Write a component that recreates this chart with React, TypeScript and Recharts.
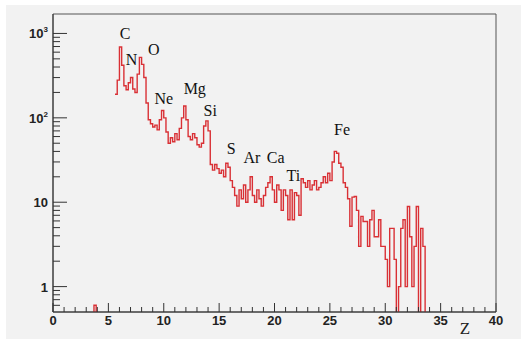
import { LineChart, Line, XAxis, YAxis, ReferenceArea, ReferenceDot } from 'recharts';

// histogram bins: 0.2 wide, from Z = 5.6 to 33.6
const firstEdge = 5.6;
const binWidth = 0.2;
const counts: number[] = [
  190, 280, 690, 420, 240, 215, 260, 300, 220, 200,
  330, 520, 430, 300, 150, 95, 85, 78, 82, 72,
  95, 122, 100, 68, 50, 58, 52, 65, 55, 75,
  100, 138, 95, 60, 55, 65, 58, 48, 45, 50,
  80, 92, 70, 28, 24, 28, 25, 22, 24, 20,
  29, 26, 18, 15, 12, 9, 14, 11, 16, 10,
  14, 20, 12, 10, 14, 11, 9, 12, 15, 17,
  20, 14, 10, 16, 14, 8, 14, 12, 6.2, 14,
  6.2, 13, 12, 7, 19, 17, 15, 18, 14, 16,
  18, 14, 15, 17, 20, 17, 22, 18, 30, 40,
  38, 29, 26, 17, 15, 11, 5.2, 11.5, 11.7, 8,
  3, 6.8, 5.9, 5.9, 3, 6.2, 8, 3.9, 3.9, 6.2,
  3, 3, 2.1, 1, 4.9, 4.9, 2.1, 0, 1, 4.9,
  6.2, 1, 8.9, 3.9, 1, 3, 8.9, 0, 4.9, 3,
];

// lone low bin near Z = 3.8
const strayEdges = [3.7, 3.9];
const strayCounts = [0.6];

const elements = ['C', 'N', 'O', 'Ne', 'Mg', 'Si', 'S', 'Ar', 'Ca', 'Ti', 'Fe'];
const elementZ = [6.5, 7.1, 9.1, 10.0, 12.8, 14.2, 16.1, 17.96, 20.1, 21.7, 26.1];
const elementY = [1014, 499, 656, 168, 226, 124, 44, 34.5, 34.5, 20.6, 74];

const xTicks = Array.from({ length: 41 }, (_, i) => i);
const yTicks = [
  0.6, 0.7, 0.8, 0.9,
  1, 2, 3, 4, 5, 6, 7, 8, 9,
  10, 20, 30, 40, 50, 60, 70, 80, 90,
  100, 200, 300, 400, 500, 600, 700, 800, 900,
  1000,
];
const yLabels: Record<number, [string, string]> = {
  1: ['1', ''],
  10: ['10', ''],
  100: ['10', '2'],
  1000: ['10', '3'],
};

const FLOOR = 0.1; // empty bins drop below the axis and get clipped

const lastEdge = +(firstEdge + counts.length * binWidth).toFixed(1);
const data: { z: number; v: number | null }[] = [
  { z: 3.6, v: FLOOR },
  { z: strayEdges[0], v: strayCounts[0] },
  { z: strayEdges[1], v: FLOOR },
  { z: 4.0, v: null },
  ...counts.map((c, i) => ({ z: +(firstEdge + i * binWidth).toFixed(1), v: c > 0 ? c : FLOOR })),
  { z: lastEdge, v: FLOOR },
];

const tickFont = 'Liberation Sans, Arial, sans-serif';
const serif = 'Liberation Serif, Times New Roman, serif';

function YTick(props: any) {
  const { x, y, payload } = props;
  const lab = yLabels[payload.value];
  const len = lab ? 14 : 7;
  return (
    <g>
      <line x1={x} x2={x + len} y1={y} y2={y} stroke="#333" strokeWidth={1} />
      {lab && (
        <text x={x - 5} y={y} dy={5} textAnchor="end" fontFamily={tickFont} fontWeight="bold" fontSize={13} fill="#222">
          {lab[0]}
          {lab[1] && (
            <tspan dy={-6} fontSize={8}>
              {lab[1]}
            </tspan>
          )}
        </text>
      )}
    </g>
  );
}

function XTick(props: any) {
  const { x, y, payload } = props;
  const major = payload.value % 5 === 0;
  return (
    <g>
      <line x1={x} x2={x} y1={y} y2={y - (major ? 9 : 5)} stroke="#333" strokeWidth={1} />
      {major && (
        <text x={x} y={y + 13} textAnchor="middle" fontFamily={tickFont} fontWeight="bold" fontSize={13} fill="#222">
          {payload.value}
        </text>
      )}
    </g>
  );
}

export default function App() {
  return (
    <div style={{ position: 'absolute', left: 0, top: 0, width: 521, height: 339, background: '#fff' }}>
      <div style={{ position: 'absolute', left: 6, top: 5, right: 0, bottom: 0, background: '#f2f2f2' }} />
      <div style={{ position: 'absolute', left: 0, top: 0 }}>
        <LineChart width={521} height={339} data={data} margin={{ top: 14, right: 25, bottom: 0, left: 0 }}>
          <ReferenceArea x1={0} x2={40} y1={0.5} y2={1700} fill="none" stroke="#555" strokeWidth={1} />
          <XAxis
            dataKey="z"
            type="number"
            domain={[0, 40]}
            ticks={xTicks}
            interval={0}
            height={27}
            tickSize={0}
            tickMargin={0}
            tickLine={false}
            axisLine={{ stroke: '#333' }}
            tick={(p: any) => <XTick {...p} />}
            label={(p: any) => (
              <text
                x={p.viewBox.x + p.viewBox.width - 31}
                y={p.viewBox.y + 22}
                textAnchor="middle"
                fontFamily={serif}
                fontSize={17}
                fill="#222"
              >
                Z
              </text>
            )}
          />
          <YAxis
            scale="log"
            domain={[0.5, 1700]}
            allowDataOverflow
            ticks={yTicks}
            interval={0}
            width={53}
            tickSize={0}
            tickMargin={0}
            tickLine={false}
            axisLine={{ stroke: '#333' }}
            tick={(p: any) => <YTick {...p} />}
          />
          <Line
            type="stepAfter"
            dataKey="v"
            stroke="#d93035"
            strokeWidth={1.4}
            dot={false}
            connectNulls={false}
            isAnimationActive={false}
          />
          {elements.map((name, i) => (
            <ReferenceDot
              key={name}
              x={elementZ[i]}
              y={elementY[i]}
              r={1}
              fill="none"
              stroke="none"
              ifOverflow="visible"
              label={{ value: name, position: 'center', fontFamily: serif, fontSize: 16, fill: '#111' }}
            />
          ))}
        </LineChart>
      </div>
    </div>
  );
}
